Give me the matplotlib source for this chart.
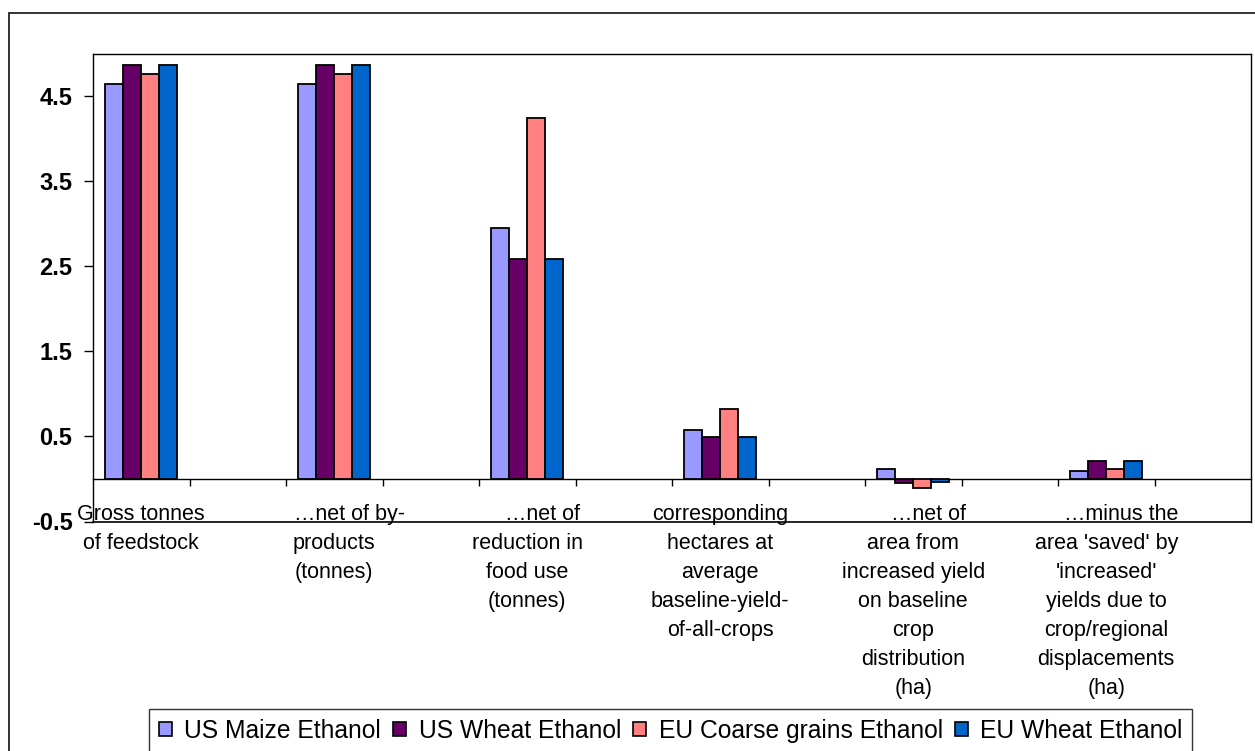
import matplotlib
matplotlib.use("Agg")
import matplotlib.pyplot as plt
from matplotlib.patches import Rectangle, Patch
import numpy as np

plt.rcParams['font.family'] = ['Liberation Sans', 'DejaVu Sans']
plt.rcParams['axes.unicode_minus'] = False

categories = [
    "Gross tonnes\nof feedstock",
    "     \u2026net of by-\nproducts\n(tonnes)",
    "     \u2026net of\nreduction in\nfood use\n(tonnes)",
    "corresponding\nhectares at\naverage\nbaseline-yield-\nof-all-crops",
    "     \u2026net of\narea from\nincreased yield\non baseline\ncrop\ndistribution\n(ha)",
    "     \u2026minus the\narea 'saved' by\n'increased'\nyields due to\ncrop/regional\ndisplacements\n(ha)",
]
series_names = ["US Maize Ethanol", "US Wheat Ethanol",
                "EU Coarse grains Ethanol", "EU Wheat Ethanol"]
us_maize = [4.645, 4.645, 2.95, 0.575, 0.117, 0.095]
us_wheat = [4.865, 4.865, 2.59, 0.49, -0.045, 0.215]
eu_coarse = [4.76, 4.76, 4.24, 0.82, -0.105, 0.117]
eu_wheat = [4.865, 4.865, 2.59, 0.49, -0.04, 0.215]
series_values = [us_maize, us_wheat, eu_coarse, eu_wheat]
colors = ["#9999FF", "#660066", "#FF8080", "#0066CC"]
yticks = [-0.5, 0.5, 1.5, 2.5, 3.5, 4.5]

W, H = 1255, 751
fig = plt.figure(figsize=(W / 100, H / 100), dpi=100)
fig.patch.set_facecolor('white')

# outer chart border
fig.add_artist(Rectangle((9 / W, -0.2), 1.2, 1 - 12.5 / H + 0.2,
                         transform=fig.transFigure, fill=False,
                         edgecolor='#222222', lw=1.3))

left, right, top, bottom = 93, 1251, 53.5, 521.5
ax = fig.add_axes([left / W, 1 - bottom / H, (right - left) / W, (bottom - top) / H])

n_slots = 2 * len(categories)  # data categories alternate with blank ones
pos = np.arange(len(categories)) * 2
bw = 0.742 / 4
for i, (vals, c) in enumerate(zip(series_values, colors)):
    ax.bar(pos + (i - 1.5) * bw, vals, width=bw, color=c,
           edgecolor='black', linewidth=1.3, zorder=3)

ax.set_xlim(-0.5, n_slots - 0.5)
ax.set_ylim(-0.5, 5.0)
ax.set_yticks(yticks)
ax.set_yticklabels([f"{v:.1f}" for v in yticks], fontsize=17, fontweight='bold')
ax.tick_params(axis='y', direction='out', length=6.3, width=1, pad=8.5)
ax.set_xticks(np.arange(n_slots - 1) + 0.5)
ax.set_xticklabels([])
ax.tick_params(axis='x', direction='out', length=5, width=1)

for s in ax.spines.values():
    s.set_color('black')
    s.set_linewidth(1)
ax.spines['bottom'].set_position(('data', 0))
ax.axhline(-0.5, color='black', lw=1.2, clip_on=False, zorder=4)

for p, lab in zip(pos, categories):
    ax.text(p, -0.29, lab, ha='center', va='top', fontsize=15.5,
            linespacing=1.5, multialignment='center')

handles = [Patch(facecolor=c, edgecolor='black', linewidth=1.2) for c in colors]
leg = fig.legend(handles, series_names, loc='upper left',
                 bbox_to_anchor=(149 / W, 1 - 709 / H), ncol=4,
                 fontsize=17.7, frameon=True, fancybox=False,
                 handlelength=0.53, handleheight=0.53, handletextpad=0.5,
                 columnspacing=0.5, borderpad=0.4, borderaxespad=0)
leg.get_frame().set_edgecolor('black')
leg.get_frame().set_linewidth(1)

fig.savefig("out.png", dpi=100)
